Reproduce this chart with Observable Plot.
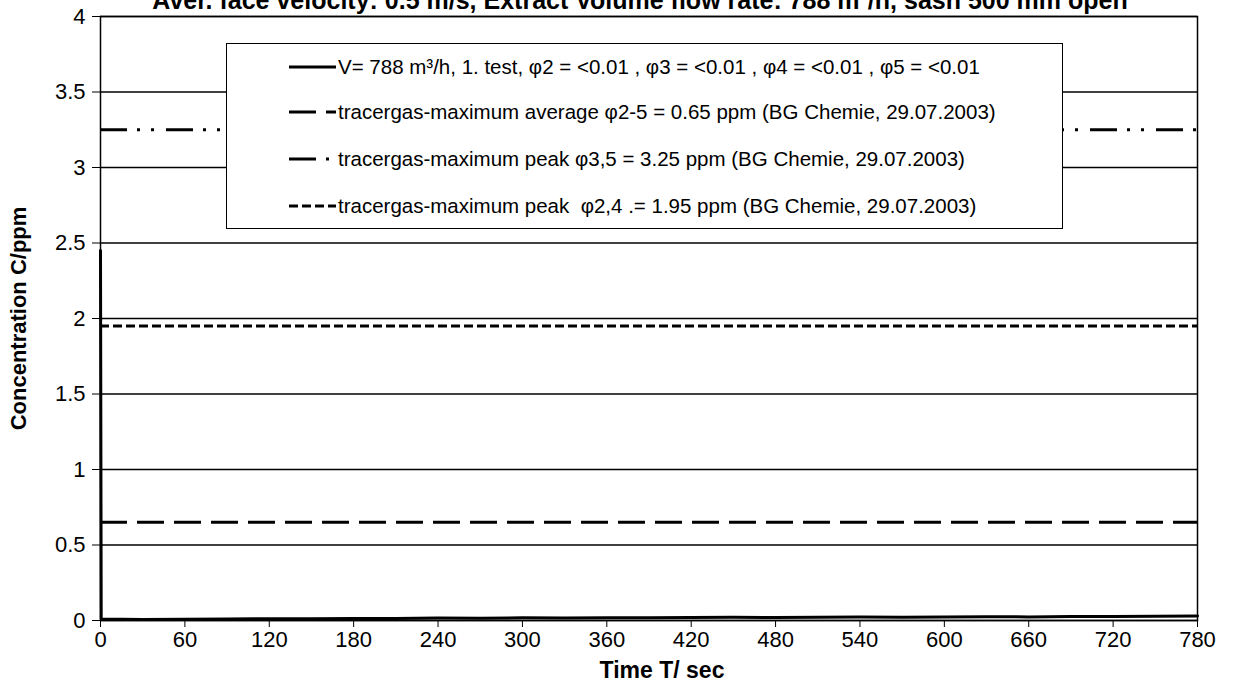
<!DOCTYPE html>
<html><head><meta charset="utf-8">
<script src="https://cdn.jsdelivr.net/npm/d3@7"></script>
<script src="https://cdn.jsdelivr.net/npm/@observablehq/plot@0.6"></script>
<style>
body{margin:0;background:#fff;font-family:"Liberation Sans",Arial,sans-serif;}
#wrap{position:relative;width:1236px;height:686px;overflow:hidden;background:#fff;}
#title{position:absolute;top:-12px;left:0;width:1280px;text-align:center;font-weight:bold;font-size:25px;line-height:25px;white-space:nowrap;}
#legend{position:absolute;left:226px;top:43px;width:837px;height:186px;border:1.5px solid #000;background:#fff;box-sizing:border-box;}
.row{position:absolute;left:0;height:24px;width:100%;}
.row svg{position:absolute;left:62px;top:7px;}
.row span{position:absolute;left:111px;top:0;font-size:20.5px;line-height:24px;white-space:pre;}
svg [aria-label="x-axis label"] text, svg [aria-label="y-axis label"] text{font-weight:bold;}
svg [aria-label="x-axis label"] text{font-size:23px;}
</style>
</head><body>
<div id="wrap">
  <div id="title"></div>
  <div id="chart"></div>
  <div id="legend"></div>
</div>
<script>
// ---- data ----
const titleText = "Aver. face velocity: 0.5 m/s, Extract Volume flow rate: 788 m³/h, sash 500 mm open";
const xTicks = [0, 60, 120, 180, 240, 300, 360, 420, 480, 540, 600, 660, 720, 780];
const yTicks = [0, 0.5, 1, 1.5, 2, 2.5, 3, 3.5, 4];
const times = [0, 0.5, 30, 60, 90, 120, 150, 180, 210, 240, 270, 300, 330, 360, 390, 420, 450, 480, 510, 540, 570, 600, 630, 660, 690, 720, 750, 780];
const conc  = [2.45, 0.01, 0.006, 0.009, 0.01, 0.012, 0.011, 0.014, 0.013, 0.016, 0.015, 0.018, 0.017, 0.019, 0.018, 0.02, 0.021, 0.02, 0.022, 0.023, 0.022, 0.024, 0.025, 0.024, 0.026, 0.027, 0.028, 0.03];
const avgLevel = [0.65];
const peak35Level = [3.25];
const peak24Level = [1.95];
const legendLabels = [
  "V= 788 m³/h, 1. test, φ2 = <0.01 , φ3 = <0.01 , φ4 = <0.01 , φ5 = <0.01",
  "tracergas-maximum average φ2-5 = 0.65 ppm (BG Chemie, 29.07.2003)",
  "tracergas-maximum peak φ3,5 = 3.25 ppm (BG Chemie, 29.07.2003)",
  "tracergas-maximum peak  φ2,4 .= 1.95 ppm (BG Chemie, 29.07.2003)"
];
const dashes = ["none", "27,10", "27,10,3,11,3,12", "9,4"];

const series = times.map((t, i) => ({t, c: conc[i]}));

const chart = Plot.plot({
  width: 1236, height: 686,
  marginLeft: 100, marginRight: 39, marginTop: 16, marginBottom: 66,
  style: {fontFamily: "'Liberation Sans', Arial, sans-serif", fontSize: "22px", color: "#000", background: "transparent", overflow: "visible"},
  x: {domain: [0, 780]},
  y: {domain: [0, 4]},
  marks: [
    Plot.ruleY(yTicks, {stroke: "#000", strokeWidth: 1.5}),
    Plot.ruleY(avgLevel, {stroke: "#000", strokeWidth: 3, strokeDasharray: dashes[1]}),
    Plot.ruleY(peak35Level, {stroke: "#000", strokeWidth: 3, strokeDasharray: dashes[2]}),
    Plot.ruleY(peak24Level, {stroke: "#000", strokeWidth: 3, strokeDasharray: dashes[3]}),
    Plot.line(series, {x: "t", y: "c", stroke: "#000", strokeWidth: 3}),
    Plot.frame({stroke: "#000", strokeWidth: 1.5}),
    Plot.axisX({ticks: xTicks, tickSize: 7, tickPadding: 4, stroke: "#000", fontSize: 22, tickFormat: d => String(d),
      label: "Time T/ sec", labelAnchor: "center", labelOffset: 57, labelArrow: "none"}),
    Plot.axisY({ticks: yTicks, tickSize: 8, tickPadding: 7, stroke: "#000", fontSize: 22, tickFormat: d => String(d),
      label: "Concentration C/ppm", labelAnchor: "center", labelOffset: 90, labelArrow: "none"})
  ]
});
document.getElementById("chart").appendChild(chart);
d3.select(chart).select('[aria-label="x-axis label"] text').attr("dx", 13);
document.getElementById("title").textContent = titleText;

const rowCenters = [23, 68, 115, 162];
const legend = document.getElementById("legend");
legendLabels.forEach((lab, i) => {
  const row = document.createElement("div");
  row.className = "row";
  row.style.top = (rowCenters[i] - 12) + "px";
  const sw = `<svg width="47" height="10"><line x1="0" x2="47" y1="5" y2="5" stroke="#000" stroke-width="3" ${dashes[i] === "none" ? "" : `stroke-dasharray="${dashes[i]}"`}/></svg>`;
  row.innerHTML = sw + `<span></span>`;
  row.querySelector("span").textContent = lab;
  legend.appendChild(row);
});
</script>
</body></html>
